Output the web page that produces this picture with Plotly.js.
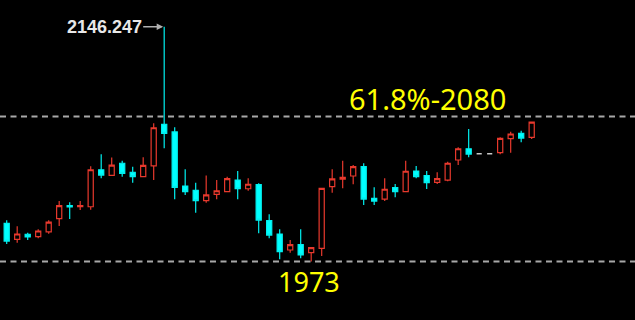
<!DOCTYPE html>
<html>
<head>
<meta charset="utf-8">
<script src="https://cdn.plot.ly/plotly-3.0.1.min.js"></script>
<style>html,body{margin:0;padding:0;background:#000;}#chart{width:635px;height:320px;}</style>
</head>
<body>
<div id="chart"></div>
<script>
// Candle index (bar number)
const barIndex = [0,1,2,3,4,5,6,7,8,9,10,11,12,13,14,15,16,17,18,19,20,21,22,23,24,25,26,27,28,29,30,31,32,33,34,35,36,37,38,39,40,41,42,43,44,45,46,47,48,49,50];
const openP  = [2001.2,1989.4,1993.1,1991.3,1994.8,2004.6,2014.2,2013.4,2013.4,2040.7,2036.6,2045.5,2038.8,2035.6,2043.5,2074.2,2068.6,2028.7,2025.5,2017.9,2022.6,2024.5,2033.1,2026.7,2029.7,2003.1,1993.3,1981.5,1985.4,1979.5,1982.7,2028.2,2033.7,2036.1,2043.0,2019.6,2019.1,2027.5,2024.5,2039.8,2036.3,2031.4,2033.1,2047.9,2056.2,null,null,2053.3,2063.6,2067.6,2064.6];
const highP  = [2003.4,1999.0,1994.2,1996.8,2003.4,2017.6,2016.7,2017.6,2043.2,2052.1,2049.7,2047.4,2043.0,2049.9,2075.0,2146.247,2072.0,2041.0,2031.1,2036.5,2033.1,2035.6,2039.8,2034.4,2030.7,2007.8,1996.8,1988.9,1996.8,1983.5,2027.5,2041.0,2047.4,2044.2,2045.5,2027.7,2034.4,2030.2,2047.4,2043.5,2039.8,2038.8,2046.6,2057.3,2070.8,null,null,2064.6,2068.8,2069.5,2076.2];
const lowP   = [1985.9,1986.9,1988.9,1990.1,1993.5,1999.2,2004.4,2011.0,2011.2,2034.4,2036.1,2035.6,2031.1,2035.2,2033.1,2056.5,2018.9,2022.1,2009.0,2016.4,2018.9,2024.1,2018.9,2025.2,1993.8,1990.1,1974.6,1979.5,1975.4,1973.0,1977.1,2023.8,2027.0,2030.0,2014.7,2014.7,2017.6,2020.4,2024.3,2034.4,2026.5,2030.2,2032.2,2044.2,2049.9,null,null,2052.1,2053.3,2061.0,2063.4];
const closeP = [1988.1,1993.3,1991.1,1995.5,2002.1,2014.2,2013.2,2014.2,2040.7,2036.8,2044.1,2038.1,2035.6,2044.0,2071.7,2067.6,2027.7,2024.5,2017.9,2022.1,2025.2,2034.1,2026.7,2030.0,2003.6,1992.5,1980.2,1985.4,1977.8,1983.2,2027.0,2033.9,2035.1,2043.0,2019.1,2017.6,2026.3,2024.5,2039.6,2035.6,2031.1,2034.1,2045.5,2056.2,2052.3,null,null,2063.9,2067.1,2064.1,2075.9];
// Flat (doji) bars drawn in grey
const dojiIndex = [45,46];
const dojiPrice = [2052.5,2052.5];
// Reference levels and labels
const levelHigh = 2080;
const levelLow = 1973;
const peakPrice = 2146.247;
const peakIndex = 15;
const peakLabel = "2146.247";
const levelHighLabel = "61.8%-2080";
const levelLowLabel = "1973";

const traces = [
  {
    type: 'candlestick',
    x: barIndex, open: openP, high: highP, low: lowP, close: closeP,
    increasing: {line: {color: '#e8392d', width: 1.2}, fillcolor: '#000000'},
    decreasing: {line: {color: '#00f0f0', width: 1.2}, fillcolor: '#00ffff'},
    whiskerwidth: 0,
    hoverinfo: 'skip',
    showlegend: false
  },
  {
    type: 'candlestick',
    x: dojiIndex, open: dojiPrice, high: dojiPrice, low: dojiPrice, close: dojiPrice,
    increasing: {line: {color: '#c8c8c8', width: 1.5}, fillcolor: '#c8c8c8'},
    decreasing: {line: {color: '#c8c8c8', width: 1.5}, fillcolor: '#c8c8c8'},
    hoverinfo: 'skip',
    showlegend: false
  }
];

const layout = {
  width: 635, height: 320,
  margin: {l: 0, r: 0, t: 0, b: 0, pad: 0},
  paper_bgcolor: '#000000', plot_bgcolor: '#000000',
  showlegend: false,
  boxgap: 0.3,
  xaxis: {visible: false, range: [-0.638, 59.84], rangeslider: {visible: false}, fixedrange: true},
  yaxis: {visible: false, range: [1929.83, 2165.97], fixedrange: true},
  shapes: [
    {type: 'line', xref: 'paper', x0: 0, x1: 1, yref: 'y', y0: levelHigh, y1: levelHigh,
     line: {color: '#a8a8a8', width: 2, dash: '6px,4.5px'}, layer: 'below'},
    {type: 'line', xref: 'paper', x0: 0, x1: 1, yref: 'y', y0: levelLow, y1: levelLow,
     line: {color: '#a8a8a8', width: 2, dash: '6px,4.5px'}, layer: 'below'}
  ],
  annotations: [
    {x: peakIndex, y: peakPrice, xref: 'x', yref: 'y', text: '<b>' + peakLabel + '</b>',
     showarrow: true, ax: -60, ay: 0, arrowhead: 2, arrowsize: 1, arrowwidth: 1.3,
     arrowcolor: '#b0b0b0', standoff: 1, borderpad: 1,
     font: {family: 'Liberation Sans, Arial, sans-serif', size: 18, color: '#e8e8e8'}},
    {x: 0.6729, y: 0.693, xref: 'paper', yref: 'paper', text: levelHighLabel, showarrow: false,
     xanchor: 'center', yanchor: 'middle',
     font: {family: 'Noto Sans, sans-serif', size: 29, color: '#ffff00'}},
    {x: 0.4866, y: 0.121, xref: 'paper', yref: 'paper', text: levelLowLabel, showarrow: false,
     xanchor: 'center', yanchor: 'middle',
     font: {family: 'Noto Sans, sans-serif', size: 27, color: '#ffff00'}}
  ]
};

Plotly.newPlot('chart', traces, layout, {displayModeBar: false, staticPlot: true});
</script>
</body>
</html>
